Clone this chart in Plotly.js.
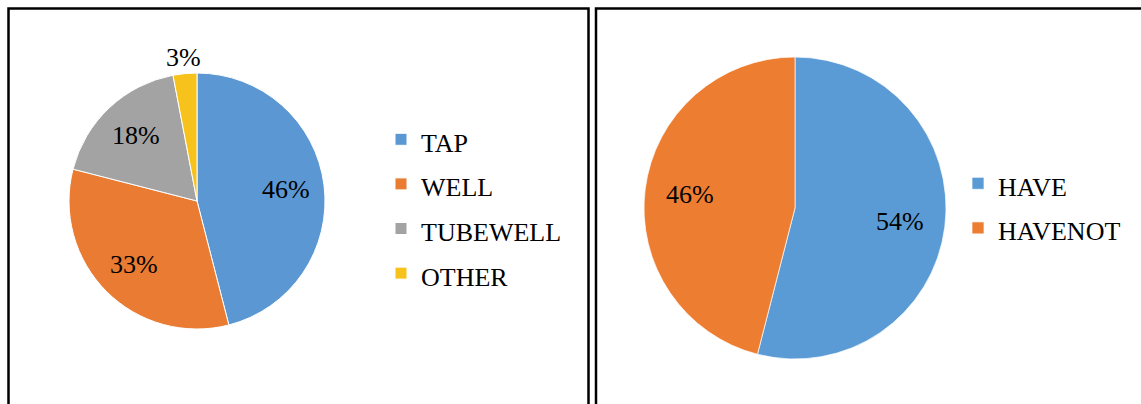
<!DOCTYPE html>
<html>
<head>
<meta charset="utf-8">
<script src="https://cdn.plot.ly/plotly-3.0.1.min.js"></script>
<style>html,body{margin:0;padding:0;background:#fff;}#chart{width:1141px;height:404px;}</style>
</head>
<body>
<div id="chart"></div>
<script>
// Left chart: source of water
const sourceLabels = ["TAP", "WELL", "TUBEWELL", "OTHER"];
const sourceValues = [46, 33, 18, 3];
const sourceColors = ["#5a97d3", "#e97b32", "#a3a3a3", "#f7c21c"];

// Right chart: have / have not
const haveLabels = ["HAVE", "HAVENOT"];
const haveValues = [54, 46];
const haveColors = ["#5b9bd5", "#ed7d31"];

const W = 1141, H = 404;
const px = v => v / W;
const py = v => 1 - v / H;
const serif = "Times New Roman, Liberation Serif, serif";
const wrap = s => '<span style="font-size:26px">' + s + '</span>';

// pie frames (pixel boxes of each pie)
const leftPie = {x0: 69, x1: 325, y0: 73, y1: 329};
const rightPie = {x0: 644, x1: 946, y0: 57, y1: 359};

// percentage labels placed from the data (clockwise from 12 o'clock)
function pctLabels(values, box) {
  const total = values.reduce((a, b) => a + b, 0);
  const cx = (box.x0 + box.x1) / 2, cy = (box.y0 + box.y1) / 2;
  const r = (box.x1 - box.x0) / 2;
  let cum = 0;
  return values.map(v => {
    const frac = v / total;
    const mid = (cum + frac / 2) * 2 * Math.PI;
    cum += frac;
    const f = frac < 0.05 ? 1.13 : 0.7;
    return {
      xref: "paper", yref: "paper",
      x: px(cx + f * r * Math.sin(mid)),
      y: py(cy - f * r * Math.cos(mid)),
      text: Math.round(frac * 100) + "%",
      showarrow: false,
      xanchor: "center", yanchor: "middle",
      font: {family: serif, size: 26, color: "#000"}
    };
  });
}

const pieBase = {
  type: "pie",
  sort: false,
  direction: "clockwise",
  rotation: 0,
  textinfo: "none",
  hoverinfo: "none",
  showlegend: true
};

const traces = [
  Object.assign({}, pieBase, {
    labels: sourceLabels.map(wrap),
    values: sourceValues,
    marker: {colors: sourceColors, line: {color: "#ffffff", width: 1}},
    domain: {x: [px(leftPie.x0), px(leftPie.x1)], y: [py(leftPie.y1), py(leftPie.y0)]},
    legend: "legend"
  }),
  Object.assign({}, pieBase, {
    labels: haveLabels.map(wrap),
    values: haveValues,
    marker: {colors: haveColors, line: {color: "#ffffff", width: 0.7}},
    domain: {x: [px(rightPie.x0), px(rightPie.x1)], y: [py(rightPie.y1), py(rightPie.y0)]},
    legend: "legend2"
  })
];

const legendBase = {
  font: {family: serif, size: 32, color: "#000"},
  bgcolor: "rgba(0,0,0,0)",
  borderwidth: 0,
  xanchor: "left",
  yanchor: "top",
  itemwidth: 30,
  traceorder: "normal"
};

const layout = {
  width: W,
  height: H,
  margin: {l: 0, r: 0, t: 0, b: 0},
  paper_bgcolor: "#ffffff",
  plot_bgcolor: "#ffffff",
  showlegend: true,
  legend: Object.assign({}, legendBase, {x: px(381), y: py(112)}),
  legend2: Object.assign({}, legendBase, {x: px(958), y: py(156)}),
  annotations: pctLabels(sourceValues, leftPie).concat(pctLabels(haveValues, rightPie)),
  shapes: [
    {type: "rect", xref: "paper", yref: "paper", x0: px(8.5), x1: px(588.5), y0: -0.2, y1: py(8.5),
     line: {color: "#000", width: 2.5}, fillcolor: "rgba(0,0,0,0)"},
    {type: "rect", xref: "paper", yref: "paper", x0: px(596), x1: 1.2, y0: -0.2, y1: py(8.5),
     line: {color: "#000", width: 2.5}, fillcolor: "rgba(0,0,0,0)"}
  ]
};

Plotly.newPlot("chart", traces, layout, {staticPlot: true, displayModeBar: false});
</script>
</body>
</html>
